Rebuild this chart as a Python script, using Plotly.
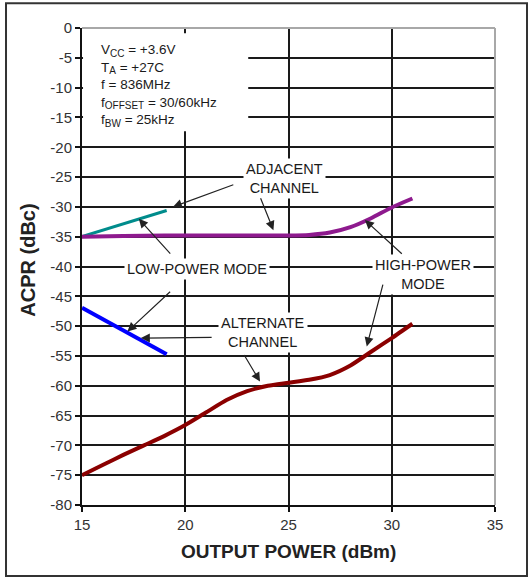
import plotly.graph_objects as go

# ---------------- data ----------------
lp_adj_x = [15, 19.1]
lp_adj_y = [-35.0, -30.6]

hp_adj_x = [15, 17, 19, 21, 23, 25, 26, 27, 28, 29, 30, 31]
hp_adj_y = [-35.0, -34.9, -34.8, -34.8, -34.8, -34.8, -34.7, -34.3, -33.4, -31.9, -30.1, -28.6]

lp_alt_x = [15, 19.1]
lp_alt_y = [-46.9, -54.7]

hp_alt_x = [15, 16, 17, 18, 19, 20, 21, 22, 23, 24, 25, 26, 27, 28, 29, 30, 31]
hp_alt_y = [-75.0, -73.3, -71.6, -70.0, -68.4, -66.6, -64.5, -62.4, -60.9, -60.0,
            -59.5, -59.0, -58.2, -56.6, -54.3, -52.0, -49.6]

x_ticks = [15, 20, 25, 30, 35]
y_ticks = [0, -5, -10, -15, -20, -25, -30, -35, -40, -45, -50, -55, -60, -65, -70, -75, -80]
y_ticktext = [str(v) for v in y_ticks]

SUB = '<sub><span style="font-size:10px">{}</span></sub>'
cond_lines = ["V" + SUB.format("CC") + " = +3.6V",
              "T" + SUB.format("A") + " = +27C",
              "f = 836MHz",
              "f" + SUB.format("OFFSET") + " = 30/60kHz",
              "f" + SUB.format("BW") + " = 25kHz"]

# callout arrows: tail -> tip
arrow_tail_x = [22.4, 23.62, 19.34, 19.34, 21.35, 22.81, 30.56, 29.59]
arrow_tail_y = [-26.2, -28.3, -38.1, -44.0, -51.9, -54.6, -38.1, -42.8]
arrow_tip_x = [19.4, 24.27, 17.75, 17.2, 17.85, 23.62, 28.7, 28.79]
arrow_tip_y = [-30.0, -33.9, -32.0, -50.9, -52.0, -59.3, -32.2, -53.4]

FONT = "Liberation Sans, Arial, sans-serif"

fig = go.Figure()
fig.add_trace(go.Scatter(x=lp_adj_x, y=lp_adj_y, mode="lines",
                         line=dict(color="#008C8C", width=3)))
fig.add_trace(go.Scatter(x=hp_adj_x, y=hp_adj_y, mode="lines",
                         line=dict(color="#8E1A8E", width=4, shape="spline", smoothing=0.6)))
fig.add_trace(go.Scatter(x=lp_alt_x, y=lp_alt_y, mode="lines",
                         line=dict(color="#0000FF", width=4)))
fig.add_trace(go.Scatter(x=hp_alt_x, y=hp_alt_y, mode="lines",
                         line=dict(color="#8B0000", width=4, shape="spline", smoothing=0.6)))

fig.update_layout(
    width=530, height=577,
    margin=dict(l=82, r=35, t=28, b=72),
    paper_bgcolor="white", plot_bgcolor="white",
    showlegend=False,
    font=dict(family=FONT, color="#222"),
)
fig.update_xaxes(range=[15, 35], tickvals=x_ticks, ticktext=[str(v) for v in x_ticks],
                 showgrid=True, gridcolor="#1a1a1a", gridwidth=2,
                 showline=True, linecolor="#111", linewidth=2,
                 ticks="outside", ticklen=5, tickwidth=1.5, tickcolor="#111",
                 tickfont=dict(size=15, color="#333", family=FONT), zeroline=False)
fig.update_yaxes(range=[-80, 0], tickvals=y_ticks, ticktext=y_ticktext,
                 showgrid=True, gridcolor="#1a1a1a", gridwidth=2,
                 showline=True, linecolor="#111", linewidth=2,
                 ticks="outside", ticklen=5, tickwidth=1.5, tickcolor="#111",
                 tickfont=dict(size=15, color="#333", family=FONT), zeroline=False)

shapes = [
    # conditions background
    dict(type="rect", xref="x", yref="y", x0=15.05, x1=23.05, y0=-0.9, y1=-17.3,
         fillcolor="white", line=dict(width=0), layer="between"),
    # gray top and right border
    dict(type="line", xref="paper", yref="paper", x0=0, x1=1, y0=1, y1=1,
         line=dict(color="#a8a8a8", width=2), layer="above"),
    dict(type="line", xref="paper", yref="paper", x0=1, x1=1, y0=0, y1=1,
         line=dict(color="#a8a8a8", width=2), layer="above"),
    # outer frame
    dict(type="rect", xref="paper", yref="paper", x0=-0.184, x1=1.0775, y0=-0.149, y1=1.052,
         line=dict(color="#333", width=2), fillcolor="rgba(0,0,0,0)", layer="above"),
]
fig.update_layout(shapes=shapes)

ann = []
# conditions text (one block)
ann.append(dict(x=15.82, y=-1.95, xref="x", yref="y", text="<br>".join(cond_lines),
                showarrow=False, xanchor="left", yanchor="top", align="left",
                font=dict(size=13.5, color="#1a1a1a", family=FONT)))

# labels
labels = [
    ("ADJACENT<br>CHANNEL", 24.83, -25.3),
    ("LOW-POWER MODE", 20.55, -40.5),
    ("ALTERNATE<br>CHANNEL", 23.78, -51.1),
    ("HIGH-POWER<br>MODE", 31.53, -41.4),
]
for t, xv, yv in labels:
    ann.append(dict(x=xv, y=yv, xref="x", yref="y", text=t, showarrow=False,
                    xanchor="center", yanchor="middle", bgcolor="white", borderpad=2,
                    font=dict(size=14.5, color="#1a1a1a", family=FONT)))

for sx, sy, tx, ty in zip(arrow_tail_x, arrow_tail_y, arrow_tip_x, arrow_tip_y):
    ann.append(dict(x=tx, y=ty, xref="x", yref="y", ax=sx, ay=sy, axref="x", ayref="y",
                    text="", showarrow=True, arrowhead=2, arrowsize=1.5, arrowwidth=1.2,
                    arrowcolor="#222"))

# axis titles
ann.append(dict(x=-0.131, y=0.514, xref="paper", yref="paper", text="<b>ACPR (dBc)</b>",
                showarrow=False, textangle=-90, xanchor="center", yanchor="middle",
                font=dict(size=20, color="#222", family=FONT)))
ann.append(dict(x=0.5, y=-0.0985, xref="paper", yref="paper", text="<b>OUTPUT POWER (dBm)</b>",
                showarrow=False, xanchor="center", yanchor="middle",
                font=dict(size=19, color="#222", family=FONT)))
fig.update_layout(annotations=ann)

fig.write_html("out.html")
